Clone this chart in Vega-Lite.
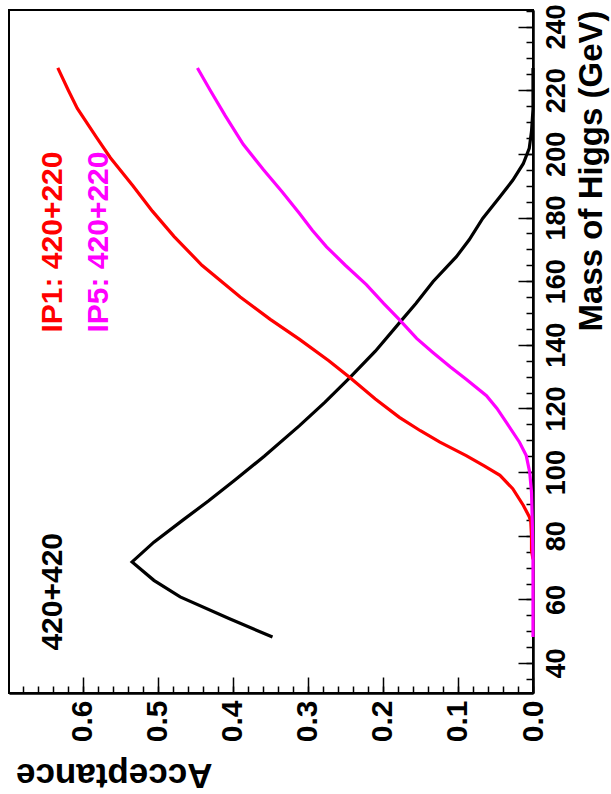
{
  "$schema": "https://vega.github.io/schema/vega-lite/v6.json",
  "width": 524,
  "height": 683,
  "autosize": {"type": "none"},
  "padding": {"left": 9, "top": 10, "right": 78, "bottom": 101},
  "background": "white",
  "config": {
    "view": {"stroke": "black", "strokeWidth": 2},
    "font": "Liberation Sans",
    "axis": {
      "grid": false,
      "domainColor": "black",
      "domainWidth": 2,
      "tickColor": "black",
      "tickWidth": 1.5,
      "labelColor": "black",
      "labelFont": "Liberation Sans",
      "labelFontWeight": "bold",
      "titleFont": "Liberation Sans",
      "titleFontWeight": "bold",
      "titleColor": "black"
    }
  },
  "datasets": {
    "curves": [
      {"series": "420+420", "mass": 48.2, "acc": 0.347},
      {"series": "420+420", "mass": 54, "acc": 0.405},
      {"series": "420+420", "mass": 60.8, "acc": 0.47},
      {"series": "420+420", "mass": 66, "acc": 0.505},
      {"series": "420+420", "mass": 71.8, "acc": 0.534},
      {"series": "420+420", "mass": 78, "acc": 0.505},
      {"series": "420+420", "mass": 85, "acc": 0.466},
      {"series": "420+420", "mass": 91, "acc": 0.432},
      {"series": "420+420", "mass": 97.5, "acc": 0.397},
      {"series": "420+420", "mass": 105, "acc": 0.358},
      {"series": "420+420", "mass": 114.6, "acc": 0.311},
      {"series": "420+420", "mass": 122, "acc": 0.277},
      {"series": "420+420", "mass": 129.7, "acc": 0.244},
      {"series": "420+420", "mass": 138, "acc": 0.21},
      {"series": "420+420", "mass": 146.9, "acc": 0.178},
      {"series": "420+420", "mass": 153, "acc": 0.156},
      {"series": "420+420", "mass": 159.9, "acc": 0.133},
      {"series": "420+420", "mass": 167.7, "acc": 0.102},
      {"series": "420+420", "mass": 173, "acc": 0.085},
      {"series": "420+420", "mass": 179.7, "acc": 0.067},
      {"series": "420+420", "mass": 186.5, "acc": 0.044},
      {"series": "420+420", "mass": 191.7, "acc": 0.027},
      {"series": "420+420", "mass": 196.9, "acc": 0.013},
      {"series": "420+420", "mass": 201.7, "acc": 0.005},
      {"series": "420+420", "mass": 207, "acc": 0.002},
      {"series": "420+420", "mass": 214, "acc": 0.0},
      {"series": "420+420", "mass": 227, "acc": 0.0},
      {"series": "IP1", "mass": 72.6, "acc": 0.0},
      {"series": "IP1", "mass": 75.5, "acc": 0.002},
      {"series": "IP1", "mass": 80, "acc": 0.002},
      {"series": "IP1", "mass": 84.5, "acc": 0.003},
      {"series": "IP1", "mass": 86, "acc": 0.005},
      {"series": "IP1", "mass": 89.6, "acc": 0.013},
      {"series": "IP1", "mass": 94.8, "acc": 0.027},
      {"series": "IP1", "mass": 99, "acc": 0.044},
      {"series": "IP1", "mass": 102, "acc": 0.065},
      {"series": "IP1", "mass": 105.2, "acc": 0.089},
      {"series": "IP1", "mass": 109.4, "acc": 0.124},
      {"series": "IP1", "mass": 113, "acc": 0.15},
      {"series": "IP1", "mass": 117.2, "acc": 0.178},
      {"series": "IP1", "mass": 123, "acc": 0.21},
      {"series": "IP1", "mass": 129.7, "acc": 0.244},
      {"series": "IP1", "mass": 135, "acc": 0.272},
      {"series": "IP1", "mass": 141.7, "acc": 0.311},
      {"series": "IP1", "mass": 148, "acc": 0.35},
      {"series": "IP1", "mass": 155, "acc": 0.39},
      {"series": "IP1", "mass": 165, "acc": 0.441},
      {"series": "IP1", "mass": 174, "acc": 0.478},
      {"series": "IP1", "mass": 182, "acc": 0.507},
      {"series": "IP1", "mass": 190, "acc": 0.533},
      {"series": "IP1", "mass": 198.8, "acc": 0.563},
      {"series": "IP1", "mass": 205, "acc": 0.581},
      {"series": "IP1", "mass": 214.3, "acc": 0.607},
      {"series": "IP1", "mass": 220, "acc": 0.619},
      {"series": "IP1", "mass": 227, "acc": 0.633},
      {"series": "IP5", "mass": 48.2, "acc": 0.0},
      {"series": "IP5", "mass": 60, "acc": 0.0},
      {"series": "IP5", "mass": 73, "acc": 0.0},
      {"series": "IP5", "mass": 85, "acc": 0.001},
      {"series": "IP5", "mass": 93.75, "acc": 0.002},
      {"series": "IP5", "mass": 100, "acc": 0.0044},
      {"series": "IP5", "mass": 105.2, "acc": 0.009},
      {"series": "IP5", "mass": 109.4, "acc": 0.018},
      {"series": "IP5", "mass": 115.6, "acc": 0.0355},
      {"series": "IP5", "mass": 120, "acc": 0.048},
      {"series": "IP5", "mass": 124, "acc": 0.062},
      {"series": "IP5", "mass": 129.2, "acc": 0.089},
      {"series": "IP5", "mass": 133, "acc": 0.11},
      {"series": "IP5", "mass": 137.5, "acc": 0.133},
      {"series": "IP5", "mass": 142, "acc": 0.155},
      {"series": "IP5", "mass": 147.9, "acc": 0.178},
      {"series": "IP5", "mass": 153, "acc": 0.199},
      {"series": "IP5", "mass": 158.9, "acc": 0.222},
      {"series": "IP5", "mass": 165, "acc": 0.25},
      {"series": "IP5", "mass": 170.8, "acc": 0.275},
      {"series": "IP5", "mass": 176, "acc": 0.294},
      {"series": "IP5", "mass": 181.25, "acc": 0.311},
      {"series": "IP5", "mass": 188, "acc": 0.334},
      {"series": "IP5", "mass": 195, "acc": 0.359},
      {"series": "IP5", "mass": 203, "acc": 0.386},
      {"series": "IP5", "mass": 212, "acc": 0.41},
      {"series": "IP5", "mass": 220, "acc": 0.43},
      {"series": "IP5", "mass": 227, "acc": 0.447}
    ],
    "labels": [
      {"series": "IP1", "text": "IP1: 420+220", "mass": 172.3, "acc": 0.639},
      {"series": "IP5", "text": "IP5: 420+220", "mass": 172.3, "acc": 0.578},
      {"series": "420+420", "text": "420+420", "mass": 62.4, "acc": 0.639}
    ]
  },
  "resolve": {"axis": {"x": "independent", "y": "independent"}},
  "layer": [
    {
      "data": {"name": "curves"},
      "mark": {"type": "line", "strokeWidth": 3.2, "interpolate": "linear"},
      "encoding": {
        "x": {
          "field": "acc",
          "type": "quantitative",
          "scale": {"domain": [0, 0.698], "reverse": true, "nice": false, "zero": false},
          "axis": {
            "orient": "bottom",
            "values": [0, 0.02, 0.04, 0.06, 0.08, 0.1, 0.12, 0.14, 0.16, 0.18, 0.2, 0.22, 0.24, 0.26, 0.28, 0.3, 0.32, 0.34, 0.36, 0.38, 0.4, 0.42, 0.44, 0.46, 0.48, 0.5, 0.52, 0.54, 0.56, 0.58, 0.6, 0.62, 0.64, 0.66, 0.68],
            "labels": false,
            "tickSize": -7,
            "title": null
          }
        },
        "y": {
          "field": "mass",
          "type": "quantitative",
          "scale": {"domain": [30.6, 245.2], "nice": false, "zero": false},
          "axis": {
            "orient": "right",
            "values": [35, 40, 45, 50, 55, 60, 65, 70, 75, 80, 85, 90, 95, 100, 105, 110, 115, 120, 125, 130, 135, 140, 145, 150, 155, 160, 165, 170, 175, 180, 185, 190, 195, 200, 205, 210, 215, 220, 225, 230, 235, 240, 245],
            "labels": false,
            "tickSize": -7,
            "title": null
          }
        },
        "order": {"field": "mass", "type": "quantitative"},
        "color": {
          "field": "series",
          "type": "nominal",
          "scale": {"domain": ["420+420", "IP1", "IP5"], "range": ["#000000", "#ff0000", "#ff00ff"]},
          "legend": null
        }
      }
    },
    {
      "data": {"name": "labels"},
      "mark": {"type": "text", "angle": 270, "align": "center", "baseline": "middle", "fontSize": 30, "fontWeight": "bold", "font": "Liberation Sans"},
      "encoding": {
        "x": {
          "field": "acc",
          "type": "quantitative",
          "axis": {
            "orient": "bottom",
            "values": [0, 0.1, 0.2, 0.3, 0.4, 0.5, 0.6],
            "format": ".1f",
            "labelAngle": 270,
            "labelFontSize": 30,
            "labelPadding": 23,
            "labelOverlap": false,
            "tickSize": -16,
            "title": "Acceptance",
            "titleFontSize": 35,
            "titleAngle": 180,
            "titleAlign": "left",
            "titleBaseline": "alphabetic",
            "titleX": 203,
            "titleY": 70
          }
        },
        "y": {
          "field": "mass",
          "type": "quantitative",
          "axis": {
            "orient": "right",
            "values": [40, 60, 80, 100, 120, 140, 160, 180, 200, 220, 240],
            "labelAngle": 270,
            "labelFontSize": 27,
            "labelPadding": 25,
            "labelOverlap": false,
            "tickSize": -15,
            "title": "Mass of Higgs (GeV)",
            "titleFontSize": 33,
            "titleAngle": 270,
            "titleAlign": "right",
            "titleBaseline": "alphabetic",
            "titleX": 68,
            "titleY": 0
          }
        },
        "text": {"field": "text"},
        "color": {"field": "series", "type": "nominal", "legend": null}
      }
    }
  ]
}
